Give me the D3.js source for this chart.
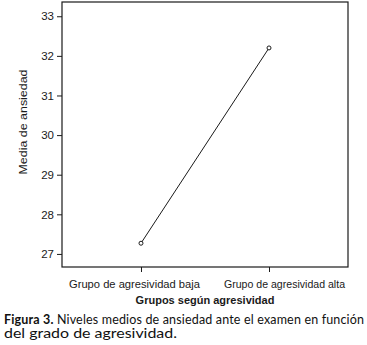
<!DOCTYPE html>
<html><head><meta charset="utf-8">
<script src="https://cdn.jsdelivr.net/npm/d3@7"></script>
<style>body{margin:0;background:#fff}svg{display:block}</style>
</head><body>
<script>
const categories = ["Grupo de agresividad baja", "Grupo de agresividad alta"];
const means = [27.27, 32.2];
const yTicks = [27, 28, 29, 30, 31, 32, 33];
const yTitle = "Media de ansiedad";
const xTitle = "Grupos según agresividad";
const captionBold = "Figura 3.";
const captionLine1 = " Niveles medios de ansiedad ante el examen en función";
const captionLine2 = "del grado de agresividad.";

const W = 367, H = 345;
const L = 62, R = 348, T = 2, B = 267;
const svg = d3.select("body").append("svg").attr("width", W).attr("height", H);
const ink = "#1a1a1a";
const sans = "Liberation Sans, Arial, sans-serif";

const x = d3.scalePoint().domain(categories).range([L, R]).padding(0.617);
const y = d3.scaleLinear().domain([26.67, 33.36]).range([B, T]);

// frame
svg.append("rect").attr("x", L).attr("y", T).attr("width", R - L).attr("height", B - T)
  .attr("fill", "none").attr("stroke", ink).attr("stroke-width", 1.2);

const yAxis = svg.append("g").attr("transform", `translate(${L},0)`)
  .call(d3.axisLeft(y).tickValues(yTicks).tickSize(5).tickPadding(3).tickFormat(d3.format("d")));
yAxis.select(".domain").remove();
yAxis.selectAll("line").attr("stroke", ink);
yAxis.selectAll("text").attr("font-family", sans).attr("font-size", 11.5).attr("fill", ink);

const xAxis = svg.append("g").attr("transform", `translate(0,${B})`)
  .call(d3.axisBottom(x).tickSize(5).tickPadding(8));
xAxis.select(".domain").remove();
xAxis.selectAll("line").attr("stroke", ink);
const labelShift = [-7, 15];
const labelWidth = [131, 121];
xAxis.selectAll("text").attr("font-family", sans).attr("font-size", 11.3).attr("fill", ink)
  .attr("dx", (d, i) => labelShift[i])
  .attr("textLength", (d, i) => labelWidth[i]).attr("lengthAdjust", "spacingAndGlyphs");

// line
const data = categories.map((c, i) => ({c, v: means[i]}));
svg.append("path").datum(data)
  .attr("d", d3.line().x(d => x(d.c)).y(d => y(d.v)))
  .attr("fill", "none").attr("stroke", ink).attr("stroke-width", 1);
svg.selectAll("circle.pt").data(data).enter().append("circle")
  .attr("cx", d => x(d.c)).attr("cy", d => y(d.v)).attr("r", 2)
  .attr("fill", "#fff").attr("stroke", ink).attr("stroke-width", 1);

// titles
svg.append("text").attr("transform", `translate(27,122) rotate(-90)`)
  .attr("text-anchor", "middle").attr("font-family", sans)
  .attr("font-size", 11.5).attr("fill", ink)
  .attr("textLength", 105).attr("lengthAdjust", "spacingAndGlyphs").text(yTitle);
svg.append("text").attr("x", 205).attr("y", 304).attr("text-anchor", "middle")
  .attr("font-family", sans).attr("font-weight", "bold")
  .attr("font-size", 11).attr("fill", ink).text(xTitle);

// caption
const cap = svg.append("text").attr("x", 4).attr("y", 324)
  .attr("font-family", "Lato, sans-serif").attr("font-size", 12.5).attr("fill", "#111")
  .attr("textLength", 360).attr("lengthAdjust", "spacing");
cap.append("tspan").attr("font-weight", "bold").text(captionBold);
cap.append("tspan").text(captionLine1);
svg.append("text").attr("x", 4).attr("y", 338)
  .attr("font-family", "Lato, sans-serif").attr("font-size", 12.5).attr("fill", "#111")
  .attr("textLength", 173).attr("lengthAdjust", "spacingAndGlyphs")
  .text(captionLine2);
</script>
</body></html>
